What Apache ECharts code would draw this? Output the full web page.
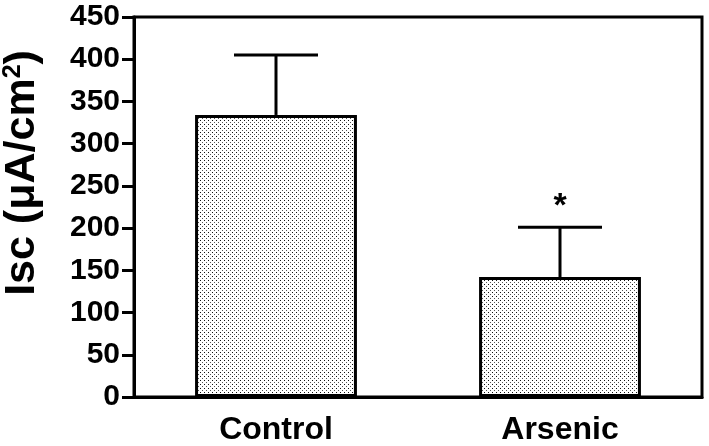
<!DOCTYPE html>
<html><head><meta charset="utf-8">
<script src="https://cdn.jsdelivr.net/npm/echarts@6/dist/echarts.min.js"></script>
<style>html,body{margin:0;padding:0;background:#fff}#c{width:709px;height:446px}</style>
</head><body><div id="c"></div>
<script>
const categories = ['Control', 'Arsenic'];
const means = [334, 142];
const upperErrors = [71, 59];
const markers = ['', '*'];
const yMin = 0, yMax = 450, yStep = 50;

const FONT = '"Liberation Sans", Arial, Helvetica, sans-serif';

// dotted fill pattern
const tile = document.createElement('canvas');
tile.width = 4; tile.height = 4;
const tc = tile.getContext('2d');
tc.fillStyle = '#fff'; tc.fillRect(0, 0, 4, 4);
tc.fillStyle = '#111'; tc.fillRect(0, 0, 1, 1);
tc.fillStyle = '#555'; tc.fillRect(2, 2, 1, 1);

const chart = echarts.init(document.getElementById('c'), null, {renderer: 'canvas'});
chart.setOption({
  animation: false,
  backgroundColor: '#fff',
  grid: {left: 134, right: 7, top: 17, bottom: 49, outerBoundsMode: 'none', containLabel: false,
         show: true, borderColor: '#000', borderWidth: 3, backgroundColor: 'transparent'},
  xAxis: {
    type: 'category', data: categories,
    axisLine: {lineStyle: {color: '#000', width: 3}},
    axisTick: {alignWithLabel: true, length: 8, lineStyle: {color: '#000', width: 3}},
    axisLabel: {color: '#000', fontFamily: FONT, fontWeight: 'bold', fontSize: 32, margin: 17}
  },
  yAxis: {
    type: 'value', min: yMin, max: yMax, interval: yStep,
    splitLine: {show: false},
    axisLine: {show: true, lineStyle: {color: '#000', width: 3}},
    axisTick: {show: true, length: 12, lineStyle: {color: '#000', width: 3}},
    axisLabel: {color: '#000', fontFamily: FONT, fontWeight: 'bold', fontSize: 30, margin: 14},
    name: 'Isc (μA/cm{sup|2})',
    nameLocation: 'middle', nameRotate: 90, nameGap: 90,
    nameTextStyle: {
      color: '#000', fontFamily: FONT, fontWeight: 'bold', fontSize: 43,
      padding: [0, 0, 0, 68],
      rich: {sup: {fontFamily: FONT, fontWeight: 'bold', fontSize: 25, verticalAlign: 'top', padding: [0, 0, 16, 0], color: '#000'}}
    }
  },
  series: [
    {
      type: 'bar', data: means, barWidth: '57%',
      itemStyle: {color: {image: tile, repeat: 'repeat'}, borderColor: '#000', borderWidth: 3},
      z: 2
    },
    {
      type: 'custom', z: 3,
      data: means.map((m, i) => [i, m, m + upperErrors[i]]),
      renderItem: function (params, api) {
        const i = api.value(0);
        const base = api.coord([i, api.value(1)]);
        const top = api.coord([i, api.value(2)]);
        const half = 42;
        const children = [
          {type: 'line', shape: {x1: base[0], y1: base[1], x2: top[0], y2: top[1]}, style: {stroke: '#000', lineWidth: 3}},
          {type: 'line', shape: {x1: top[0] - half, y1: top[1], x2: top[0] + half, y2: top[1]}, style: {stroke: '#000', lineWidth: 3}}
        ];
        const mk = markers[params.dataIndex];
        if (mk) {
          children.push({type: 'text', style: {text: mk, x: top[0], y: top[1] - 4, align: 'center', verticalAlign: 'bottom', fontFamily: FONT, fontWeight: 'bold', fontSize: 34, fill: '#000'}});
        }
        return {type: 'group', children: children};
      }
    }
  ]
});
</script>
</body></html>
